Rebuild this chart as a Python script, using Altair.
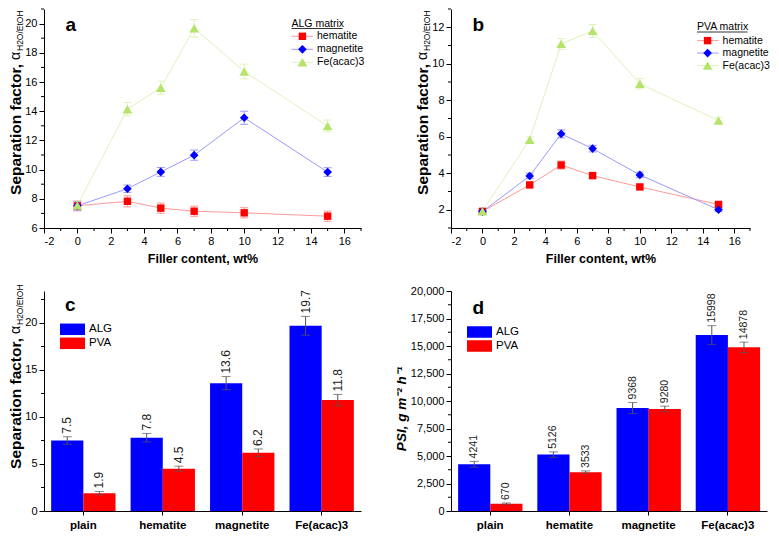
import altair as alt
import pandas as pd

FONT = "Liberation Sans"

# ---------------- data: panels a / b (separation factor vs filler content)
filler = [0, 3, 5, 7, 10, 15]
fillers = ["hematite", "magnetite", "Fe(acac)3"]

alg_hem = [7.52, 7.83, 7.36, 7.15, 7.04, 6.81]
alg_mag = [7.52, 8.69, 9.84, 10.99, 13.55, 9.83]
alg_fe = [7.56, 14.14, 15.61, 19.68, 16.72, 12.99]
alg_hem_err = [0.35, 0.38, 0.35, 0.35, 0.35, 0.35]
alg_mag_err = [0.30, 0.25, 0.30, 0.35, 0.45, 0.30]
alg_fe_err = [0.30, 0.45, 0.45, 0.60, 0.50, 0.40]

pva_hem = [1.91, 3.36, 4.45, 3.87, 3.25, 2.29]
pva_mag = [1.90, 3.85, 6.16, 5.35, 3.91, 2.00]
pva_fe = [1.92, 5.84, 11.09, 11.80, 8.90, 6.89]
pva_hem_err = [0.08, 0.12, 0.22, 0.15, 0.12, 0.10]
pva_mag_err = [0.08, 0.15, 0.22, 0.18, 0.15, 0.10]
pva_fe_err = [0.08, 0.15, 0.30, 0.35, 0.28, 0.18]

# ---------------- data: panels c / d (bars)
groups = ["plain", "hematite", "magnetite", "Fe(acac)3"]
matrices = ["ALG", "PVA"]
sep_alg = [7.5, 7.8, 13.6, 19.7]
sep_pva = [1.9, 4.5, 6.2, 11.8]
sep_alg_err = [0.40, 0.45, 0.70, 1.00]
sep_pva_err = [0.18, 0.27, 0.40, 0.60]
psi_alg = [4241, 5126, 9368, 15998]
psi_pva = [670, 3533, 9280, 14878]
psi_alg_err = [270, 250, 500, 850]
psi_pva_err = [60, 110, 250, 470]

# ---------------- tick values
x_major = [-2, 0, 2, 4, 6, 8, 10, 12, 14, 16]
x_minor = [-1, 1, 3, 5, 7, 9, 11, 13, 15, 17]
a_major = [6, 8, 10, 12, 14, 16, 18, 20]
a_minor = [7, 9, 11, 13, 15, 17, 19, 21]
b_major = [2, 4, 6, 8, 10, 12]
b_minor = [1, 3, 5, 7, 9, 11, 13]
c_major = [0, 5, 10, 15, 20]
c_minor = [2.5, 7.5, 12.5, 17.5, 22.5]
d_major = [0, 2500, 5000, 7500, 10000, 12500, 15000, 17500, 20000]
d_minor = [1250, 3750, 6250, 8750, 11250, 13750, 16250, 18750]

# ---------------- styles
marker_colors = ["#ff0000", "#0000ff", "#b4e46a"]
line_colors = ["#ff9a9a", "#9a9aff", "#dff2bd"]
marker_shapes = ["square", "diamond", "triangle-up"]
marker_sizes = [55, 95, 90]
bar_colors = ["#0000ff", "#ff0000"]
TITLE_SIZE = 15.5
MINUS_FIX = "replace(datum.label, '\u2212', '-')"


def text_layer(txt, x, y, **kw):
    return alt.Chart(pd.DataFrame({"t": [txt]})).mark_text(**kw).encode(
        text="t:N", x=alt.value(x), y=alt.value(y)
    )


def sep_title(x, y_end):
    main = text_layer("Separation factor,", x, y_end, angle=270, align="right",
                      baseline="middle", fontSize=TITLE_SIZE, fontWeight="bold")
    alpha = text_layer("α", x, y_end - 4, angle=270, align="left",
                       baseline="middle", fontSize=TITLE_SIZE - 1.5)
    sub = text_layer("H2O/EtOH", x + 4, y_end - 13, angle=270, align="left",
                     baseline="middle", fontSize=8.5)
    return [main, alpha, sub]


def line_panel(vals, errs, ydom, ymaj, ymin, leg_title, letter, width, height, leg):
    recs = []
    for s, vv, ee in zip(fillers, vals, errs):
        for x, v, e in zip(filler, vv, ee):
            recs.append({"series": s, "x": x, "y": v, "lo": v - e, "hi": v + e})
    df = pd.DataFrame(recs)
    xs = alt.Scale(domain=[-2, 17], nice=False, zero=False)
    ys = alt.Scale(domain=ydom, nice=False, zero=False)
    xax = alt.Axis(values=x_major, format="d", title="Filler content, wt%",
                   titleFontWeight="bold", titleFontSize=12.5, titlePadding=6,
                   labelFontSize=11, tickSize=5, labelPadding=2, labelExpr=MINUS_FIX)
    yax = alt.Axis(values=ymaj, format="d", title=None, labelFontSize=11,
                   tickSize=5, labelPadding=2)

    def X(f):
        return alt.X(f, type="quantitative", scale=xs, axis=xax)

    def Y(f):
        return alt.Y(f, type="quantitative", scale=ys, axis=yax)

    stroke = alt.Stroke("series:N", scale=alt.Scale(domain=fillers, range=line_colors), legend=None)
    fill = alt.Fill("series:N", scale=alt.Scale(domain=fillers, range=marker_colors), legend=None)
    shape = alt.Shape("series:N", scale=alt.Scale(domain=fillers, range=marker_shapes), legend=None)
    size = alt.Size("series:N", scale=alt.Scale(domain=fillers, range=marker_sizes), legend=None)

    base = alt.Chart(df)
    lines = base.mark_line(strokeWidth=1).encode(x=X("x"), y=Y("y"), stroke=stroke)
    err = base.mark_rule(strokeWidth=1).encode(x=X("x"), y=Y("lo"), y2="hi", stroke=stroke)
    cap_hi = base.mark_rule(strokeWidth=1, xOffset=-4, x2Offset=4).encode(
        x=X("x"), x2="x", y=Y("hi"), stroke=stroke)
    cap_lo = base.mark_rule(strokeWidth=1, xOffset=-4, x2Offset=4).encode(
        x=X("x"), x2="x", y=Y("lo"), stroke=stroke)
    pts = base.mark_point(filled=True, opacity=1, strokeWidth=0).encode(
        x=X("x"), y=Y("y"), fill=fill, shape=shape, size=size)
    yminor = alt.Chart(pd.DataFrame({"v": ymin})).mark_rule(color="black").encode(
        y=Y("v"), x=alt.value(-3), x2=alt.value(0))
    xminor = alt.Chart(pd.DataFrame({"v": x_minor})).mark_rule(color="black").encode(
        x=X("v"), y=alt.value(height), y2=alt.value(height + 3))
    data = alt.layer(lines, err, cap_hi, cap_lo, pts, yminor, xminor)

    ldf = pd.DataFrame({"series": fillers, "idx": list(range(len(fillers)))})
    Ly = alt.Y("idx:Q", scale=alt.Scale(domain=[0, len(fillers) - 1], range=[leg["y0"], leg["y1"]],
                                        nice=False, zero=False), axis=None)
    lb = alt.Chart(ldf)
    l_line = lb.mark_rule(strokeWidth=1).encode(
        x=alt.value(leg["lx0"]), x2=alt.value(leg["lx1"]), y=Ly, stroke=stroke)
    l_pt = lb.mark_point(filled=True, opacity=1, strokeWidth=0).encode(
        x=alt.value(leg["mx"]), y=Ly, fill=fill, shape=shape, size=size)
    l_txt = lb.mark_text(align="left", baseline="middle", fontSize=10.5).encode(
        x=alt.value(leg["tx"]), y=Ly, text="series:N")
    l_title = text_layer(leg_title, leg["lx0"], leg["ty"], align="left",
                         baseline="alphabetic", fontSize=10.5)
    l_ul = alt.Chart(pd.DataFrame({"t": [leg_title]})).mark_rule(color="black", strokeWidth=0.8).encode(
        x=alt.value(leg["lx0"]), x2=alt.value(leg["lx0"] + leg["ul"]), y=alt.value(leg["ty"] + 2))
    let = text_layer(letter, leg["ax"], leg["ay"], align="left", baseline="alphabetic",
                     fontSize=19, fontWeight="bold")
    deco = alt.layer(l_line, l_pt, l_txt, l_title, l_ul, let, *sep_title(-28, leg["title_end"]))
    return alt.layer(data, deco).resolve_scale(y="independent").properties(width=width, height=height)


def bar_panel(alg, pva, alg_err, pva_err, ydom, ymaj, ymin, yfmt, vfmt, vsize,
              letter, width, height, leg, title_layers):
    recs = []
    for m, vals, errs in (("ALG", alg, alg_err), ("PVA", pva, pva_err)):
        for g, v, e in zip(groups, vals, errs):
            recs.append({"group": g, "matrix": m, "value": v, "lo": v - e, "hi": v + e})
    df = pd.DataFrame(recs)
    xs = alt.Scale(domain=groups, paddingInner=0.19, paddingOuter=0.09)
    xax = alt.Axis(title=None, labelAngle=0, labelFontWeight="bold", labelFontSize=11.5,
                   tickSize=4, labelPadding=4)
    X = alt.X("group:N", scale=xs, axis=xax, sort=groups)
    XO = alt.XOffset("matrix:N", scale=alt.Scale(domain=matrices, paddingInner=0, paddingOuter=0))
    ys = alt.Scale(domain=ydom, nice=False, zero=True)
    yax = alt.Axis(values=ymaj, format=yfmt, title=None, labelFontSize=11, tickSize=5, labelPadding=2)

    def Y(f):
        return alt.Y(f, type="quantitative", scale=ys, axis=yax)

    fill = alt.Fill("matrix:N", scale=alt.Scale(domain=matrices, range=bar_colors), legend=None)
    base = alt.Chart(df)
    bars = base.mark_bar(opacity=1).encode(x=X, xOffset=XO, y=Y("value"), fill=fill)
    err = base.mark_rule(color="#555555", strokeWidth=1).encode(x=X, xOffset=XO, y=Y("lo"), y2="hi")
    cap_hi = base.mark_tick(color="#555555", size=9, thickness=1).encode(x=X, xOffset=XO, y=Y("hi"))
    cap_lo = base.mark_tick(color="#555555", size=9, thickness=1).encode(x=X, xOffset=XO, y=Y("lo"))
    lab = base.mark_text(angle=270, align="left", baseline="middle", dx=3, fontSize=vsize,
                         color="#222222").encode(
        x=X, xOffset=XO, y=Y("hi"), text=alt.Text("value:Q", format=vfmt))
    yminor = alt.Chart(pd.DataFrame({"v": ymin})).mark_rule(color="black").encode(
        y=Y("v"), x=alt.value(-3), x2=alt.value(0))
    data = alt.layer(bars, err, cap_hi, cap_lo, lab, yminor)

    ldf = pd.DataFrame({"matrix": matrices, "idx": [0, 1]})
    Ly = alt.Y("idx:Q", scale=alt.Scale(domain=[0, 1], range=[leg["y0"], leg["y1"]],
                                        nice=False, zero=False), axis=None)
    lb = alt.Chart(ldf)
    l_box = lb.mark_point(filled=True, opacity=1, strokeWidth=0, shape="M-1,-0.46H1V0.46H-1Z",
                          size=625).encode(x=alt.value(28.5), y=Ly, fill=fill)
    l_txt = lb.mark_text(align="left", baseline="middle", fontSize=11.5).encode(
        x=alt.value(45), y=Ly, text="matrix:N")
    let = text_layer(letter, leg["ax"], leg["ay"], align="left", baseline="alphabetic",
                     fontSize=19, fontWeight="bold")
    deco = alt.layer(l_box, l_txt, let, *title_layers)
    return alt.layer(data, deco).resolve_scale(y="independent").properties(width=width, height=height)


pa = line_panel([alg_hem, alg_mag, alg_fe], [alg_hem_err, alg_mag_err, alg_fe_err],
                [6, 21], a_major, a_minor, "ALG matrix", "a", 317, 219,
                dict(y0=27.3, y1=53.3, lx0=247.5, lx1=269, mx=258.4, tx=273, ty=17.5, ul=51,
                     ax=21.4, ay=21.6, title_end=55))
pb = line_panel([pva_hem, pva_mag, pva_fe], [pva_hem_err, pva_mag_err, pva_fe_err],
                [1, 13], b_major, b_minor, "PVA matrix", "b", 299, 219,
                dict(y0=31.6, y1=56.6, lx0=246, lx1=267.6, mx=256.6, tx=271.6, ty=21, ul=50.6,
                     ax=21.6, ay=21.6, title_end=55))
pc = bar_panel(sep_alg, sep_pva, sep_alg_err, sep_pva_err, [0, 23.4], c_major, c_minor,
               "d", ".1f", 12, "c", 317, 220,
               dict(y0=38.3, y1=52.3, ax=21, ay=20), sep_title(-28, 47))
psi_title = [text_layer("PSI, g m⁻² h⁻¹", -49, 118, angle=270, align="center",
                        baseline="middle", fontSize=13.5, fontWeight="bold",
                        fontStyle="italic")]
pd_ = bar_panel(psi_alg, psi_pva, psi_alg_err, psi_pva_err, [0, 20000], d_major, d_minor,
                ",d", "d", 10.5, "d", 316, 220,
                dict(y0=41, y1=55, ax=21.6, ay=22.6), psi_title)

chart = alt.concat(pa, pb, pc, pd_, columns=2, spacing={"row": 63, "column": 90},
                   bounds="flush").resolve_scale(
    fill="independent", stroke="independent", shape="independent", size="independent"
).properties(
    padding={"left": 1, "top": 0, "right": 0, "bottom": 0}
).configure(font=FONT).configure_view(stroke=None).configure_axis(
    domainColor="black", tickColor="black", labelColor="black", titleColor="black",
    grid=False, labelFont=FONT, titleFont=FONT, domainWidth=1, tickWidth=1
)

chart.save("out.html", embed_options={"renderer": "svg", "actions": False})
